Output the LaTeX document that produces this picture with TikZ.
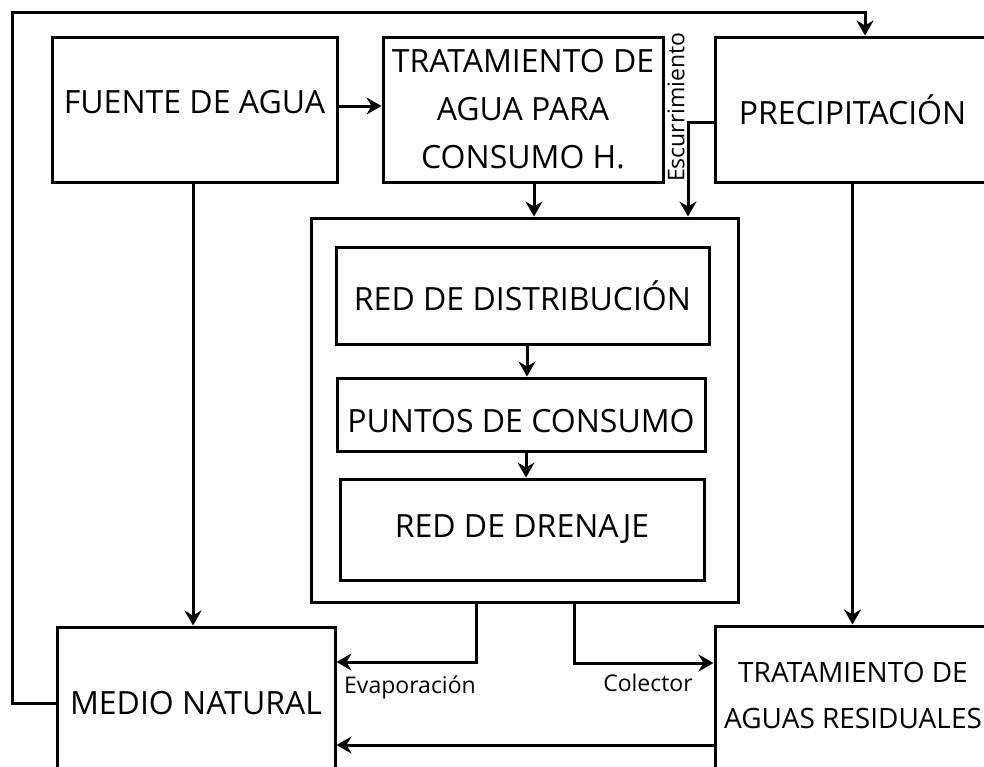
\documentclass[tikz,border=0pt]{standalone}
\usepackage{fontspec}
\setmainfont{Open Sans}
\usetikzlibrary{arrows.meta,calc}
\begin{document}
\begin{tikzpicture}[x=0.5pt,y=-0.5pt,
  box/.style={draw, line width=1.5pt, inner sep=0pt, align=center,
    font=\fontsize{16}{24}\selectfont},
  lbl/.style={font=\fontsize{11.5}{14}\selectfont, inner sep=0pt},
  arr/.style={line width=1.5pt, -{Stealth[length=7.5pt,width=8.5pt,inset=2.5pt]}},
  ln/.style={line width=1.5pt}]
\useasboundingbox (0,0) rectangle (984,766);
\clip (0,0) rectangle (984,766);
% boxes
\node[box, minimum width=142.5pt, minimum height=72.5pt, text height=11.4pt, text depth=7pt] (fuente) at (194.5,109.5) {FUENTE DE AGUA};
\node[box, minimum width=140pt, minimum height=72.5pt] (trat) at (523,109.5) {TRATAMIENTO DE\\AGUA PARA\\CONSUMO H.};
\node[box, minimum width=137.5pt, minimum height=72.5pt] (prec) at (852.5,109.5) {PRECIPITACIÓN};
\node[box, minimum width=213.5pt, minimum height=192pt] (cont) at (524.5,410) {};
\node[box, minimum width=186.5pt, minimum height=48.5pt] (reddist) at (522.5,295.5) {RED DE DISTRIBUCIÓN};
\node[box, minimum width=184pt, minimum height=36.5pt, text height=18pt, text depth=0pt] (puntos) at (521,414.5) {PUNTOS DE CONSUMO};
\node[box, minimum width=182pt, minimum height=50.5pt] (drenaje) at (522,529.5) {RED DE DRENAJE};
\node[box, minimum width=139pt, minimum height=76pt] (medio) at (196,703) {MEDIO NATURAL};
\node[box, minimum width=140pt, minimum height=87pt] (tares) at (855,713) {};
\node[align=center, inner sep=0pt, font=\fontsize{14}{23}\selectfont] (tarestext) at (853,695) {TRATAMIENTO DE\\AGUAS RESIDUALES};
% labels
\node[lbl, rotate=90] (esc) at (676,107) {Escurrimiento};
\node[lbl] (evap) at (410,687) {Evaporación};
\node[lbl] (colec) at (648,683) {Colector};
% coordinates
\coordinate (lt) at (12,12);
\coordinate (t1) at ($(trat.south)+(11,0)$);
\coordinate (e1) at ($(prec.west)+(0,12.5)$);
\coordinate (e2) at (688,0);
\coordinate (d1) at (527,0);
\coordinate (d2) at (526,0);
\coordinate (ev) at (476,662);
\coordinate (co) at (574,663);
\coordinate (bt) at (0,745);
\coordinate (f1) at (193,0);
\coordinate (fa) at (0,106);
% connectors
\draw[arr] (medio.west) -| (lt) -| ($(prec.north)+(12.5,0)$);
\draw[arr] (fa -| fuente.east) -- (fa -| trat.west);
\draw[arr] (f1 |- fuente.south) -- (f1 |- medio.north);
\draw[arr] (t1) -- (t1 |- cont.north);
\draw[arr] (e1) -| (e2 |- cont.north);
\draw[arr] (prec.south) -- (prec.south |- tares.north);
\draw[arr] (d1 |- reddist.south) -- (d1 |- puntos.north);
\draw[arr] (d2 |- puntos.south) -- (d2 |- drenaje.north);
\draw[arr] (ev |- cont.south) -- (ev) -- (ev -| medio.east);
\draw[arr] (co |- cont.south) -- (co) -- (co -| tares.west);
\draw[arr] (bt -| tares.west) -- (bt -| medio.east);
\end{tikzpicture}
\end{document}
